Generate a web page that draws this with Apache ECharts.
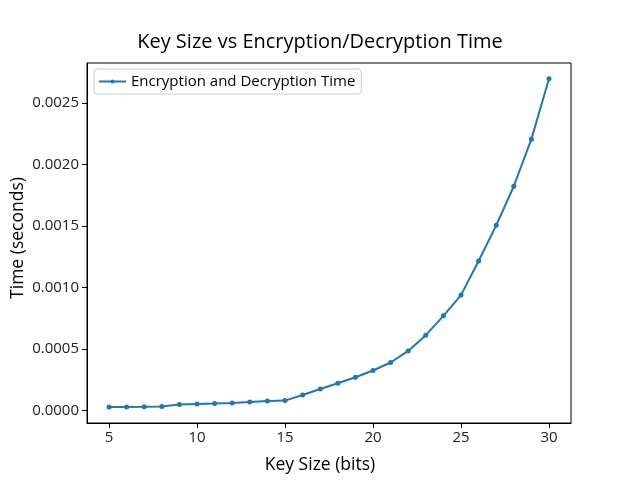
<!DOCTYPE html>
<html lang="en">
<head>
	<meta charset="UTF-8">
	<title>Key Size vs Encryption/Decryption Time</title>
	<script src="https://cdn.jsdelivr.net/npm/echarts@6/dist/echarts.min.js"></script>
</head>
<body style="margin:0">
	<div id="main" style="width: 640px; height: 480px;"></div>
	<script type="text/javascript">
		// key sizes in bits, times in seconds
		const keySizes = [5, 6, 7, 8, 9, 10, 11, 12, 13, 14, 15, 16, 17, 18, 19, 20, 21, 22, 23, 24, 25, 26, 27, 28, 29, 30];
		const times = [0.000029, 0.000030, 0.000031, 0.000034, 0.000049, 0.000054, 0.000057, 0.000062, 0.000070, 0.000078, 0.000081,
			0.000127, 0.000176, 0.000222, 0.000271, 0.000326, 0.000391, 0.000485, 0.000613, 0.000770, 0.000939,
			0.001216, 0.001506, 0.001824, 0.002207, 0.002698];
		const xTicks = [5, 10, 15, 20, 25, 30];
		const yTicks = [0, 0.0005, 0.0010, 0.0015, 0.0020, 0.0025];

		const font = '"Open Sans", "Noto Sans", sans-serif';
		const chart = echarts.init(document.getElementById('main'));

		chart.setOption({
			animation: false,
			title: {
				text: 'Key Size vs Encryption/Decryption Time',
				left: 'center',
				top: 27,
				textStyle: { fontFamily: font, fontSize: 20, fontWeight: 'normal', color: '#000' }
			},
			legend: {
				left: 94,
				top: 69,
				itemWidth: 27,
				itemHeight: 5,
				padding: [5, 6, 5, 4],
				borderColor: '#cccccc',
				borderWidth: 1,
				borderRadius: 3,
				textStyle: { fontFamily: font, fontSize: 15, color: '#000' }
			},
			grid: {
				left: 87,
				right: 69,
				top: 63,
				bottom: 57,
				outerBoundsMode: 'none',
				containLabel: false,
				show: true,
				borderColor: '#000',
				borderWidth: 1
			},
			xAxis: {
				type: 'value',
				min: 3.75,
				max: 31.25,
				name: 'Key Size (bits)',
				nameLocation: 'middle',
				nameGap: 33,
				nameMoveOverlap: false,
				nameTextStyle: { fontFamily: font, fontSize: 17.5, color: '#000', padding: [0, 18, 0, 0] },
				splitLine: { show: false },
				axisLine: { onZero: false, lineStyle: { color: '#000' } },
				axisTick: { customValues: xTicks, length: 5, lineStyle: { color: '#000' } },
				axisLabel: { customValues: xTicks, fontFamily: font, fontSize: 15, color: '#222', margin: 7 }
			},
			yAxis: {
				type: 'value',
				min: -0.000101,
				max: 0.002826,
				name: 'Time (seconds)',
				nameLocation: 'middle',
				nameGap: 60,
				nameMoveOverlap: false,
				nameTextStyle: { fontFamily: font, fontSize: 17.5, color: '#000', padding: [0, 0, 0, 10] },
				splitLine: { show: false },
				axisLine: { show: true, onZero: false, lineStyle: { color: '#000' } },
				axisTick: { show: true, customValues: yTicks, length: 5, lineStyle: { color: '#000' } },
				axisLabel: {
					customValues: yTicks,
					fontFamily: font, fontSize: 15, color: '#222', margin: 8,
					formatter: v => v.toFixed(4)
				}
			},
			series: [{
				name: 'Encryption and Decryption Time',
				type: 'line',
				data: keySizes.map((k, i) => [k, times[i]]),
				symbol: 'circle',
				symbolSize: 5,
				color: '#1f77b4',
				lineStyle: { width: 2 }
			}]
		});
	</script>
</body>
</html>
